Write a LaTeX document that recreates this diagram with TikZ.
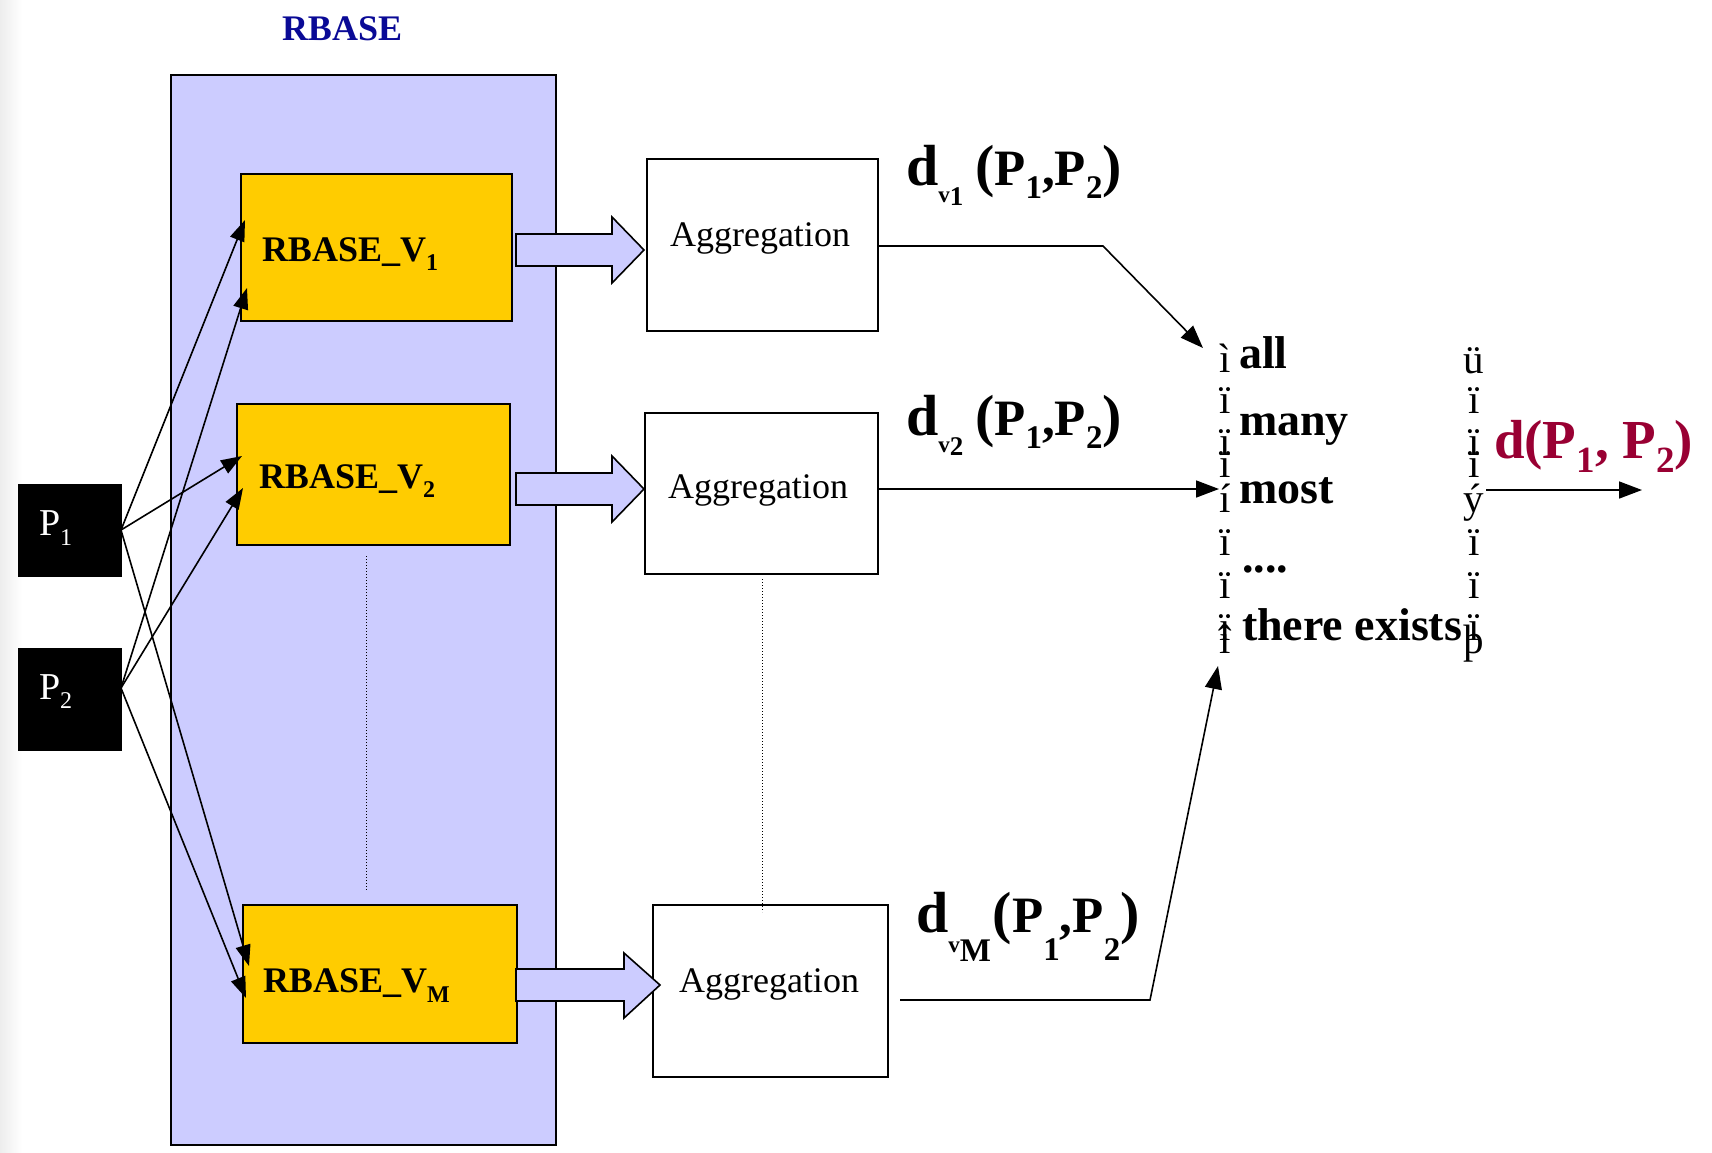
\documentclass[tikz,border=0pt]{standalone}
\usepackage{fontspec}
\setmainfont{Liberation Serif}
\usetikzlibrary{arrows.meta,calc}
\definecolor{lav}{RGB}{204,204,255}
\definecolor{gold}{RGB}{255,204,0}
\definecolor{rbblue}{RGB}{10,10,150}
\definecolor{dred}{RGB}{153,0,51}
\newcommand{\myfs}[1]{\fontsize{#1}{#1}\selectfont}
\tikzset{
  lbl/.style={inner sep=0pt, outer sep=0pt},
  box/.style={draw, line width=1.6pt, inner sep=0pt, outer sep=0pt, anchor=north west},
  conn/.style={line width=1.6pt, -{Triangle[length=21pt,width=15pt]}},
  bigconn/.style={line width=1.6pt, -{Triangle[length=23pt,width=17pt]}},
  blockarrow/.style={draw, line width=1.6pt, fill=lav, line join=miter},
  dotline/.style={dotted, line width=1pt},
  glyph/.style={inner sep=0pt, outer sep=0pt, anchor=base, font=\myfs{41}},
  word/.style={inner sep=0pt, outer sep=0pt, anchor=base west, font=\bfseries\myfs{46}}
}
\begin{document}
\begin{tikzpicture}[x=1pt,y=-1pt]
\useasboundingbox (0,0) rectangle (1712,1152);
\shade[left color=black!7, right color=white] (0,0) rectangle (22,1152);

% big RBASE container
\node[box, fill=lav, minimum width=385pt, minimum height=1070pt] (rb) at (171,75) {};
\node[lbl, anchor=base west, text=rbblue, font=\bfseries\myfs{36}] (rbt) at (282,40) {RBASE};

% RBASE_V boxes
\node[box, fill=gold, minimum width=271pt, minimum height=147pt] (v1) at (241,174) {};
\node[box, fill=gold, minimum width=273pt, minimum height=141pt] (v2) at (237,404) {};
\node[box, fill=gold, minimum width=274pt, minimum height=138pt] (vm) at (243,905) {};
\node[lbl, anchor=base west, font=\bfseries] (v1t) at (262,261) {{\myfs{36}RBASE\_V}\raisebox{-9pt}{\myfs{24}1}};
\node[lbl, anchor=base west, font=\bfseries] (v2t) at (259,488) {{\myfs{36}RBASE\_V}\raisebox{-9pt}{\myfs{24}2}};
\node[lbl, anchor=base west, font=\bfseries] (vmt) at (263,992) {{\myfs{36}RBASE\_V}\raisebox{-10pt}{\myfs{24}M}};

% dotted lines
\coordinate (d1a) at (366,556);
\coordinate (d1b) at (366,890);
\draw[dotline] (d1a) -- (d1b);

% P boxes
\node[box, fill=black, minimum width=102pt, minimum height=91pt] (p1) at (19,485) {};
\node[box, fill=black, minimum width=102pt, minimum height=101pt] (p2) at (19,649) {};
\node[lbl, anchor=base west, text=white] (p1t) at (39,535) {{\myfs{38}P}\raisebox{-10pt}{\myfs{24}1}};
\node[lbl, anchor=base west, text=white] (p2t) at (39,699) {{\myfs{38}P}\raisebox{-9pt}{\myfs{24}2}};

% Aggregation boxes
\node[box, fill=white, minimum width=231pt, minimum height=172pt] (a1) at (647,159) {};
\node[box, fill=white, minimum width=233pt, minimum height=161pt] (a2) at (645,413) {};
\node[box, fill=white, minimum width=235pt, minimum height=172pt] (a3) at (653,905) {};
\node[lbl, anchor=base, font=\myfs{36}] (a1t) at (760,246) {Aggregation};
\node[lbl, anchor=base, font=\myfs{36}] (a2t) at (758,498) {Aggregation};
\node[lbl, anchor=base, font=\myfs{36}] (a3t) at (769,992) {Aggregation};
\coordinate (d2a) at (762,579);
\coordinate (d2b) at (762,912);
\draw[dotline] (d2a) -- (d2b);

% block arrows
\draw[blockarrow] (516,234) -- (612,234) -- (612,217) -- (644,250) -- (612,283) -- (612,266) -- (516,266) -- cycle;
\draw[blockarrow] (516,473) -- (612,473) -- (612,456) -- (644,489) -- (612,522) -- (612,505) -- (516,505) -- cycle;
\draw[blockarrow] (516,969) -- (624,969) -- (624,953) -- (660,985) -- (624,1018) -- (624,1001) -- (516,1001) -- cycle;

% connectors P -> RBASE_V
\coordinate (p1o) at (121,530);
\coordinate (p2o) at (121,688);
\coordinate (t11) at (245,220);
\coordinate (t21) at (247,288);
\coordinate (t12) at (242,456);
\coordinate (t22) at (243,488);
\coordinate (t1m) at (249,966);
\coordinate (t2m) at (246,998);
\draw[conn] (p1o) -- (t11);
\draw[conn] (p1o) -- (t12);
\draw[conn] (p1o) -- (t1m);
\draw[conn] (p2o) -- (t21);
\draw[conn] (p2o) -- (t22);
\draw[conn] (p2o) -- (t2m);

% d labels
\node[lbl, anchor=base west, font=\bfseries] (dl1) at (906,185) {{\myfs{58}d}\raisebox{-17pt}{\myfs{23}v}\raisebox{-20pt}{\myfs{27}1}\hspace{12pt}{\myfs{58}(}{\myfs{51}P}\raisebox{-13pt}{\myfs{33}1}{\myfs{51},P}\raisebox{-13pt}{\myfs{33}2}{\myfs{58})}};
\node[lbl, anchor=base west, font=\bfseries] (dl2) at (906,435) {{\myfs{58}d}\raisebox{-17pt}{\myfs{23}v}\raisebox{-20pt}{\myfs{27}2}\hspace{12pt}{\myfs{58}(}{\myfs{51}P}\raisebox{-13pt}{\myfs{33}1}{\myfs{51},P}\raisebox{-13pt}{\myfs{33}2}{\myfs{58})}};
\node[lbl, anchor=base west, font=\bfseries] (dlm) at (916,932) {{\myfs{58}d}\raisebox{-20pt}{\myfs{23}v}\raisebox{-29pt}{\myfs{33}M}\hspace{2pt}{\myfs{58}(}{\myfs{51}P}\raisebox{-28pt}{\myfs{33}1}{\myfs{51},P}\raisebox{-28pt}{\myfs{33}2}{\myfs{58})}};

% connectors Aggregation -> quantifier list
\coordinate (k1) at (1103,246);
\coordinate (e1) at (1203,348);
\coordinate (e2) at (1219,489);
\coordinate (s3) at (900,1000);
\coordinate (k3) at (1150,1000);
\coordinate (e3) at (1218,666);
\draw[bigconn] (a1.east |- k1) -- (k1) -- (e1);
\draw[bigconn] (a2.east |- e2) -- (e2);
\draw[bigconn] (s3) -- (k3) -- (e3);

% left brace glyphs (as printed)
\foreach \ch/\yy [count=\i] in {ì/372, ï/413, ï/455, ï/477, í/512, ï/555, ï/598, ï/640, î/653}
  {\node[glyph] (L\i) at (1225,\yy) {\ch};}
% right brace glyphs (as printed)
\foreach \ch/\yy [count=\i] in {ü/373, ï/413, ï/455, ï/477, ý/512, ï/555, ï/598, ï/640, þ/653}
  {\node[glyph] (R\i) at (1474,\yy) {\ch};}

% quantifier words
\node[word] (w1) at (1239,368) {all};
\node[word] (w2) at (1239,435) {many};
\node[word] (w3) at (1239,503) {most};
\node[word] (w4) at (1242,572) {....};
\node[word] (w5) at (1242,640) {there exists};

% result
\node[lbl, anchor=base west, font=\bfseries, text=dred] (res) at (1494,458) {{\myfs{55}d(P}\raisebox{-14pt}{\myfs{37}1}{\myfs{55}, P}\raisebox{-14pt}{\myfs{37}2}{\myfs{55})}};
\coordinate (ro) at (1486,490);
\coordinate (re) at (1642,490);
\draw[bigconn] (ro) -- (re);
\end{tikzpicture}
\end{document}
